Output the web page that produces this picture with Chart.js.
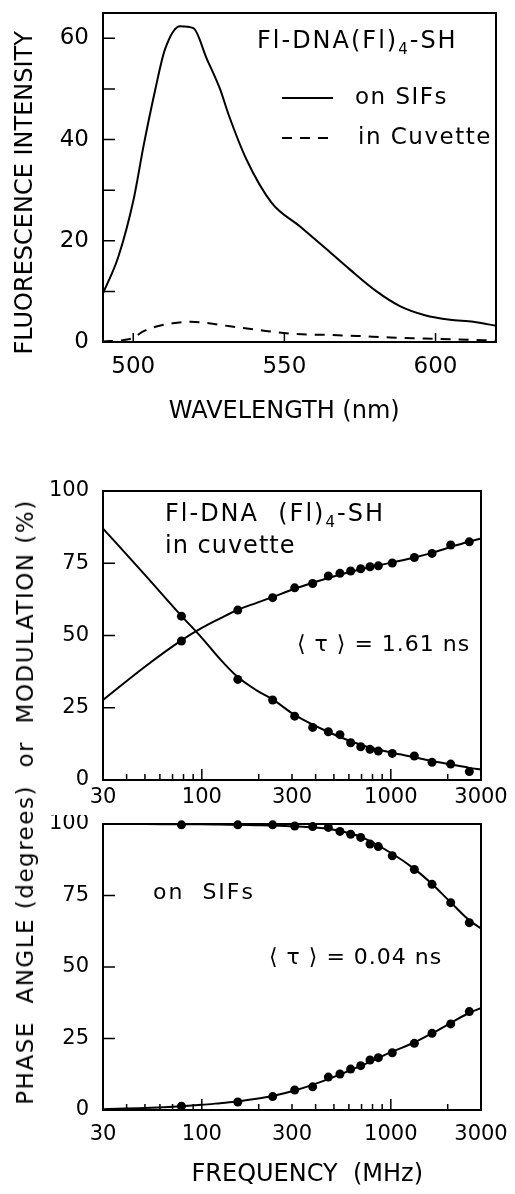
<!DOCTYPE html>
<html>
<head>
<meta charset="utf-8">
<script src="https://cdn.jsdelivr.net/npm/chart.js@4.4.1/dist/chart.umd.min.js"></script>
<style>
  body { margin: 0; background: #fff; }
  #page { position: relative; width: 515px; height: 1194px; font-family: "DejaVu Sans"; }
  canvas { position: absolute; left: 0; }
  #sideTitle {
    position: absolute; left: 25px; top: 802px;
    transform: translate(-50%, -50%) rotate(-90deg);
    white-space: pre; font-size: 23px; letter-spacing: 1.5px; color: #000;
  }
</style>
</head>
<body>
<div id="page">
  <canvas id="spectrum" width="515" height="430" style="top:0"></canvas>
  <canvas id="cuvette" width="515" height="345" style="top:470px"></canvas>
  <canvas id="sifs" width="515" height="379" style="top:815px"></canvas>
  <div id="sideTitle">PHASE  ANGLE (degrees)  or  MODULATION (%)</div>
</div>
<script>
// emission spectra
const wlSifs = [490, 495.1, 500.1, 503.4, 507.3, 510.5, 515.5, 519.9, 524.3, 528.7, 531.5, 537.5, 545.8, 555.2, 563.4, 571.7, 580.5, 588.2, 596.5, 604.8, 612.5, 620];
const intSifs = [9.6, 16.9, 28.1, 38.7, 49.9, 57.8, 62.4, 62.0, 56.0, 50.0, 45.0, 36.0, 27.5, 22.8, 18.6, 14.3, 10.0, 7.1, 5.3, 4.4, 4.0, 3.2];
const wlCuv = [490, 497, 500, 503, 508, 513, 519, 525, 532, 541, 553, 564, 574, 585, 596, 607, 620];
const intCuv = [0.1, 0.4, 0.8, 2.0, 3.1, 3.7, 4.0, 3.7, 3.1, 2.4, 1.6, 1.4, 1.2, 0.9, 0.7, 0.5, 0.3];
const wlLabels = [500, 550, 600];
const intLabels = [0, 20, 40, 60];
const wlMarks = [500, 550, 600];
const intMarks = [10, 20, 30, 40, 50, 60];

// frequency-domain data (MHz)
const freq = [78, 155, 237, 310, 386, 467, 538, 613, 693, 776, 859, 1018, 1332, 1652, 2074, 2602];
const phaseCuv = [48.1, 58.8, 63.1, 66.5, 68.0, 70.6, 71.5, 72.3, 73.1, 73.8, 74.1, 75.1, 77.0, 78.4, 81.3, 82.4];
const modCuv = [56.7, 34.8, 27.7, 22.1, 18.2, 16.7, 15.7, 12.9, 11.5, 10.6, 10.0, 9.2, 8.3, 6.1, 5.5, 2.9];
const modSif = [99.7, 99.7, 99.7, 99.3, 99.1, 98.8, 97.4, 96.4, 95.3, 93.0, 92.1, 88.9, 84.1, 78.9, 72.5, 65.5];
const phaseSif = [1.3, 2.8, 4.7, 7.0, 8.1, 11.5, 12.6, 14.3, 15.5, 17.5, 18.3, 20.0, 23.3, 26.8, 30.1, 34.4];

// fitted curves
const fitFreq = [30, 50, 78, 100, 125, 155, 195, 237, 310, 467, 693, 1018, 1332, 1652, 2074, 2602, 3000];
const fitPhaseCuv = [27.7, 39.2, 48.3, 52.6, 55.9, 58.9, 61.3, 63.3, 66.2, 69.9, 72.9, 75.3, 77.0, 78.6, 80.6, 82.5, 83.6];
const fitModCuv = [87, 71, 56.8, 49.2, 41.8, 35.6, 31.0, 27.9, 22.5, 16.6, 12.2, 9.4, 7.9, 6.6, 5.4, 4.2, 3.6];
const fitModSif = [100, 100, 99.9, 99.9, 99.8, 99.7, 99.6, 99.5, 99.2, 98.3, 95.5, 89.6, 84.3, 79.0, 72.6, 66.3, 63.5];
const fitPhaseSif = [0.3, 0.7, 1.3, 1.8, 2.4, 3.0, 3.9, 4.9, 6.8, 10.8, 15.4, 20.4, 23.6, 26.8, 30.4, 34.0, 35.6];

const freqLabels = [30, 100, 300, 1000, 3000];
const freqMajor = [100, 1000];
const freqMinor = [40, 50, 60, 70, 80, 90, 200, 300, 400, 500, 600, 700, 800, 900, 2000];
const pctLabels = [0, 25, 50, 75, 100];
const pctMarks = [25, 50, 75];

Chart.defaults.font.family = '"DejaVu Sans"';
Chart.defaults.color = '#000';

const pts = (xs, ys) => xs.map((x, i) => ({ x: x, y: ys[i] }));

// fixed axis size; labels may overhang the plot without pushing it around
const fixWidth = w => s => { s.width = w; s.paddingTop = 0; s.paddingBottom = 0; };
const fixHeight = h => s => { s.height = h; s.paddingLeft = 0; s.paddingRight = 0; };

// box around the plot and tick marks pointing inward
function frame(xMarks, yMarks) {
  return {
    id: 'frame',
    afterDraw(chart) {
      const { ctx, chartArea: a, scales } = chart;
      ctx.save();
      ctx.strokeStyle = '#000';
      ctx.lineWidth = 2;
      ctx.strokeRect(a.left, a.top, a.right - a.left, a.bottom - a.top);
      ctx.lineWidth = 1.5;
      ctx.beginPath();
      xMarks.forEach(([v, len]) => {
        const x = scales.x.getPixelForValue(v);
        ctx.moveTo(x, a.bottom);
        ctx.lineTo(x, a.bottom - len);
      });
      yMarks.forEach(([v, len]) => {
        const y = scales.y.getPixelForValue(v);
        ctx.moveTo(a.left, y);
        ctx.lineTo(a.left + len, y);
      });
      ctx.stroke();
      ctx.restore();
    }
  };
}

// texts inside the plots (with subscripts) and legend line samples
function notes(texts, lines) {
  return {
    id: 'notes',
    afterDraw(chart) {
      const ctx = chart.ctx;
      ctx.save();
      ctx.fillStyle = '#000';
      ctx.strokeStyle = '#000';
      ctx.textBaseline = 'middle';
      lines.forEach(l => {
        ctx.lineWidth = 2;
        ctx.setLineDash(l.dash || []);
        ctx.beginPath();
        ctx.moveTo(l.x1, l.y);
        ctx.lineTo(l.x2, l.y);
        ctx.stroke();
      });
      ctx.setLineDash([]);
      texts.forEach(t => {
        let x = t.x;
        ctx.letterSpacing = (t.spacing || 0) + 'px';
        t.parts.forEach(p => {
          const size = p.sub ? Math.round(t.size * 0.62) : t.size;
          ctx.font = size + 'px "DejaVu Sans"';
          ctx.fillText(p.text, x, p.sub ? t.y + t.size * 0.32 : t.y);
          x += ctx.measureText(p.text).width;
        });
      });
      ctx.restore();
    }
  };
}

const lineSet = (data, dash) => ({
  data: data, showLine: true, borderColor: '#000', borderWidth: 2,
  borderDash: dash || [], pointRadius: 0, cubicInterpolationMode: 'monotone'
});
const dotSet = (data) => ({
  data: data, showLine: false, pointRadius: 4.5, pointBackgroundColor: '#000',
  pointBorderWidth: 0, clip: false
});

// ---- top: emission spectra ----
new Chart(document.getElementById('spectrum'), {
  type: 'scatter',
  data: {
    datasets: [
      lineSet(pts(wlSifs, intSifs)),
      lineSet(pts(wlCuv, intCuv), [10, 8])
    ]
  },
  options: {
    responsive: false,
    animation: false,
    layout: { padding: { left: 0, right: 19, top: 13, bottom: 0 } },
    plugins: { legend: { display: false }, tooltip: { enabled: false } },
    scales: {
      x: {
        type: 'linear', min: 490, max: 620,
        afterBuildTicks: s => { s.ticks = wlLabels.map(v => ({ value: v })); },
        afterFit: fixHeight(88),
        grid: { display: false, drawTicks: false },
        border: { display: false },
        ticks: { padding: 11, font: { size: 23 }, maxRotation: 0, autoSkip: false },
        title: { display: true, text: 'WAVELENGTH (nm)    ', font: { size: 24 }, padding: { bottom: 4 } }
      },
      y: {
        min: 0, max: 65,
        afterBuildTicks: s => { s.ticks = intLabels.map(v => ({ value: v })); },
        afterFit: fixWidth(103),
        grid: { display: false, drawTicks: false },
        border: { display: false },
        ticks: { padding: 14, font: { size: 23 } },
        title: { display: true, text: 'FLUORESCENCE INTENSITY    ', font: { size: 24 }, padding: { top: 11 } }
      }
    }
  },
  plugins: [
    frame(wlMarks.map(v => [v, 9]), intMarks.map(v => [v, 12])),
    notes([
      { x: 257, y: 42, size: 24, spacing: 2, parts: [{ text: 'Fl-DNA(Fl)' }, { text: '4', sub: true }, { text: '-SH' }] },
      { x: 355, y: 98, size: 23, spacing: 1.5, parts: [{ text: 'on SIFs' }] },
      { x: 358, y: 138, size: 23, spacing: 1.5, parts: [{ text: 'in Cuvette' }] }
    ], [
      { x1: 282, x2: 333, y: 98 },
      { x1: 282, x2: 333, y: 138, dash: [10, 8] }
    ])
  ]
});

// ---- lower: phase / modulation vs frequency ----
function freqChart(id, sets, opts, extraPlugins) {
  return new Chart(document.getElementById(id), {
    type: 'scatter',
    data: { datasets: sets },
    options: {
      responsive: false,
      animation: false,
      layout: { padding: { left: 0, right: 34, top: opts.top, bottom: 0 } },
      plugins: { legend: { display: false }, tooltip: { enabled: false } },
      scales: {
        x: {
          type: 'logarithmic', min: 30, max: 3000,
          afterBuildTicks: s => { s.ticks = freqLabels.map(v => ({ value: v })); },
          afterFit: fixHeight(opts.axisH),
          grid: { display: false, drawTicks: false },
          border: { display: false },
          ticks: { padding: opts.tickPad, font: { size: 21 }, maxRotation: 0, autoSkip: false, callback: v => String(v) },
          title: opts.title
        },
        y: {
          min: 0, max: 100,
          afterBuildTicks: s => { s.ticks = pctLabels.map(v => ({ value: v })); },
          afterFit: fixWidth(103),
          grid: { display: false, drawTicks: false },
          border: { display: false },
          ticks: { padding: 14, font: { size: 21 } }
        }
      }
    },
    plugins: [
      frame(freqMajor.map(v => [v, 11]).concat(freqMinor.map(v => [v, 6])), pctMarks.map(v => [v, 12]))
    ].concat(extraPlugins)
  });
}

freqChart('cuvette', [
  lineSet(pts(fitFreq, fitPhaseCuv)),
  lineSet(pts(fitFreq, fitModCuv)),
  dotSet(pts(freq, phaseCuv)),
  dotSet(pts(freq, modCuv))
], { top: 21, axisH: 35, tickPad: 5, title: { display: false } }, [
  notes([
    { x: 165, y: 45, size: 24, spacing: 2, parts: [{ text: 'Fl-DNA  (Fl)' }, { text: '4', sub: true }, { text: '-SH' }] },
    { x: 165, y: 77, size: 24, spacing: 1, parts: [{ text: 'in cuvette' }] },
    { x: 297, y: 175, size: 22, spacing: 1, parts: [{ text: '\u27E8 \u03C4 \u27E9 = 1.61 ns' }] }
  ], [])
]);

freqChart('sifs', [
  lineSet(pts(fitFreq, fitModSif)),
  lineSet(pts(fitFreq, fitPhaseSif)),
  dotSet(pts(freq, modSif)),
  dotSet(pts(freq, phaseSif))
], { top: 9, axisH: 84, tickPad: 12, title: { display: true, text: '    FREQUENCY  (MHz)', font: { size: 24 }, padding: { bottom: 5 } } }, [
  notes([
    { x: 153, y: 78, size: 22, spacing: 2, parts: [{ text: 'on  SIFs' }] },
    { x: 269, y: 143, size: 22, spacing: 1, parts: [{ text: '\u27E8 \u03C4 \u27E9 = 0.04 ns' }] }
  ], [])
]);
</script>
</body>
</html>
